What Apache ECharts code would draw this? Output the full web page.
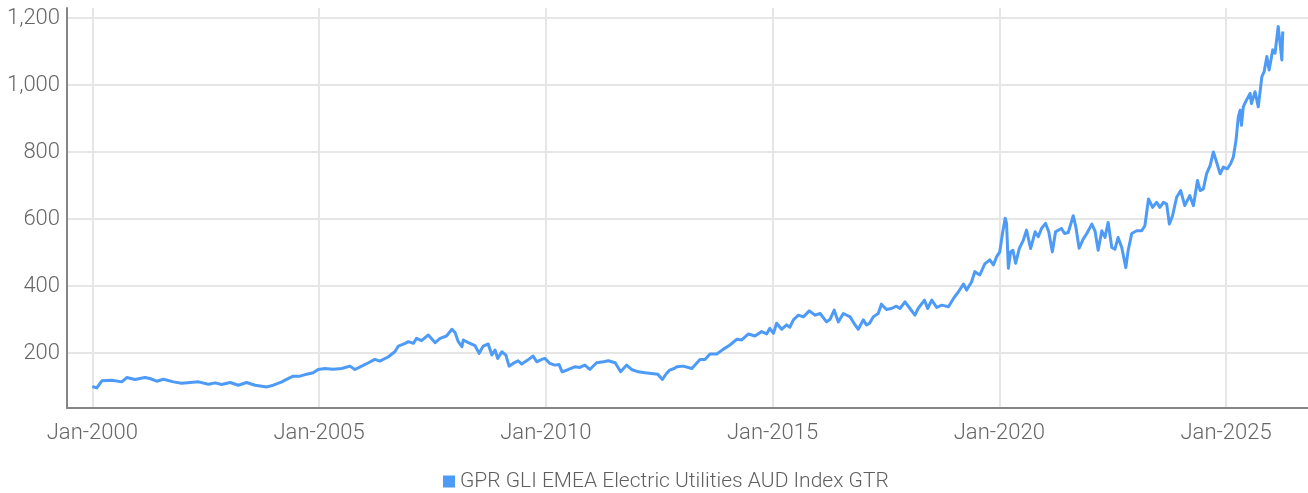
<!DOCTYPE html>
<html>
<head>
<meta charset="utf-8">
<script src="https://cdn.jsdelivr.net/npm/echarts@6/dist/echarts.min.js"></script>
<style>
html,body{margin:0;padding:0;background:#fff;}
#chart{width:1308px;height:493px;}
</style>
</head>
<body>
<div id="chart"></div>
<script>
// Decimal year of each observation
const years = [
2000.00,2000.10,2000.21,2000.43,2000.65,2000.76,2000.94,2001.16,2001.27,2001.42,2001.57,2001.79,2001.97,2002.34,2002.56,2002.71,2002.85,2003.04,2003.22,2003.40,2003.59,2003.85,2003.99,2004.18,2004.25,
2004.43,2004.58,2004.73,2004.87,2004.98,2005.13,2005.31,2005.50,2005.68,2005.79,2005.94,2006.09,2006.23,2006.34,2006.53,2006.67,2006.75,2006.90,2006.97,2007.08,2007.15,2007.26,2007.41,2007.56,2007.67,2007.81,2007.93,2008.00,2008.07,2008.15,2008.18,2008.29,2008.44,2008.53,
2008.62,2008.73,2008.81,2008.88,2008.94,2009.03,2009.12,2009.19,2009.28,2009.39,2009.47,2009.60,2009.72,2009.80,2009.91,2009.98,2010.09,2010.20,2010.29,2010.36,2010.50,2010.64,2010.75,2010.86,2010.97,2011.12,2011.27,2011.38,2011.53,2011.65,2011.78,2011.89,2012.04,2012.19,2012.33,2012.47,2012.57,2012.66,2012.73,2012.83,
2012.89,2013.03,2013.22,2013.40,2013.51,2013.62,2013.77,2013.91,2014.06,2014.21,2014.32,2014.47,2014.61,2014.76,2014.87,2014.94,2015.02,2015.09,2015.20,2015.31,2015.38,2015.46,2015.57,2015.68,2015.81,2015.94,2016.05,2016.19,2016.27,2016.36,2016.45,2016.56,2016.71,2016.82,2016.89,2017.00,2017.07,2017.14,
2017.22,2017.33,2017.40,2017.51,2017.62,2017.73,2017.81,2017.92,2018.03,2018.14,2018.21,2018.35,2018.42,2018.51,2018.62,2018.73,2018.88,2018.99,2019.10,2019.21,2019.28,2019.39,2019.46,2019.57,2019.68,2019.79,2019.87,2019.94,2020.01,2020.07,2020.13,2020.16,2020.20,2020.25,2020.30,2020.36,2020.44,2020.53,2020.60,2020.69,2020.79,2020.86,2020.93,2021.02,2021.09,2021.17,2021.24,2021.37,2021.44,
2021.52,2021.63,2021.69,2021.76,2021.85,2021.93,2022.04,2022.11,2022.18,2022.26,2022.33,2022.40,2022.48,2022.55,2022.62,2022.70,2022.79,2022.84,2022.92,2023.03,2023.14,2023.21,2023.29,2023.38,2023.47,2023.54,2023.62,2023.69,2023.75,2023.82,2023.91,2024.00,2024.09,2024.20,2024.28,2024.37,2024.43,2024.50,2024.57,2024.65,2024.72,2024.78,2024.87,2024.94,
2025.03,2025.10,2025.16,2025.22,2025.27,2025.31,2025.34,2025.38,2025.45,2025.53,2025.56,2025.64,2025.71,2025.79,2025.84,2025.90,2025.95,2026.03,2026.08,2026.15,2026.19,2026.23,2026.25
];
// Index level (AUD, gross total return)
const values = [
100,96,117,119,114,127,121,127,124,116,122,114,110,114,107,111,106,112,104,112,104,99,104,114,119,
131,131,137,141,151,154,152,154,161,151,161,171,181,176,189,204,221,229,234,229,244,237,254,231,244,251,271,261,234,219,239,231,222,199,
221,227,194,209,184,204,194,161,169,177,167,179,191,174,181,184,169,164,166,144,151,159,157,164,151,171,174,177,171,144,164,151,144,141,139,137,121,139,149,154,
159,161,154,181,181,197,197,211,224,241,239,257,251,264,257,274,259,289,271,284,277,299,313,308,326,313,318,293,301,328,293,318,308,284,271,299,284,289,
308,318,346,330,333,340,333,353,333,313,333,358,333,358,336,343,338,363,383,406,388,413,443,433,466,478,463,487,502,557,602,587,453,502,507,468,512,537,567,512,562,547,572,587,562,502,562,572,557,
560,610,575,513,540,557,585,565,507,565,545,590,515,510,545,515,455,505,557,565,565,580,660,635,650,635,650,645,585,610,665,685,640,670,640,715,685,690,735,760,800,775,735,755,
750,765,785,835,905,925,880,935,955,975,945,980,935,1025,1040,1085,1045,1105,1095,1175,1125,1075,1160
];
const xTickYears = [2000, 2005, 2010, 2015, 2020, 2025];
const yTickValues = [200, 400, 600, 800, 1000, 1200];
const seriesName = 'GPR GLI EMEA Electric Utilities AUD Index GTR';

const FONT = '"Liberation Sans Narrow", "Arial Narrow", Roboto, sans-serif';
const chart = echarts.init(document.getElementById('chart'), null, {renderer: 'canvas'});
chart.setOption({
  animation: false,
  backgroundColor: '#ffffff',
  grid: {left: 67, right: 0, top: 8, bottom: 85, containLabel: false},
  legend: {
    data: [seriesName],
    left: 438, top: 466,
    icon: 'rect', itemWidth: 12, itemHeight: 12, itemGap: 4,
    textStyle: {fontFamily: FONT, fontSize: 21, color: '#5f5f5f', fontWeight: 300}
  },
  xAxis: {
    type: 'value',
    min: 1999.442, max: 2026.807,
    axisLine: {show: true, onZero: false, lineStyle: {color: '#858585', width: 2}},
    axisTick: {show: false, customValues: xTickYears},
    splitLine: {show: true, lineStyle: {color: '#e6e6e6', width: 2}},
    axisLabel: {
      customValues: xTickYears,
      formatter: v => 'Jan-' + Math.round(v),
      fontFamily: FONT, fontSize: 22, color: '#666666', fontWeight: 300, margin: 14
    }
  },
  yAxis: {
    type: 'value',
    min: 36, max: 1230,
    axisLine: {show: true, lineStyle: {color: '#858585', width: 2}},
    axisTick: {show: false, customValues: yTickValues},
    splitLine: {show: true, lineStyle: {color: '#e6e6e6', width: 2}},
    axisLabel: {
      customValues: yTickValues,
      formatter: v => v.toLocaleString('en-US'),
      fontFamily: FONT, fontSize: 22, color: '#666666', fontWeight: 300, margin: 7
    }
  },
  series: [{
    name: seriesName,
    type: 'line',
    showSymbol: false,
    smooth: false,
    data: years.map((y, i) => [y, values[i]]),
    color: '#4d9bf6',
    lineStyle: {color: '#4d9bf6', width: 3, join: 'round'}
  }]
});
</script>
</body>
</html>
